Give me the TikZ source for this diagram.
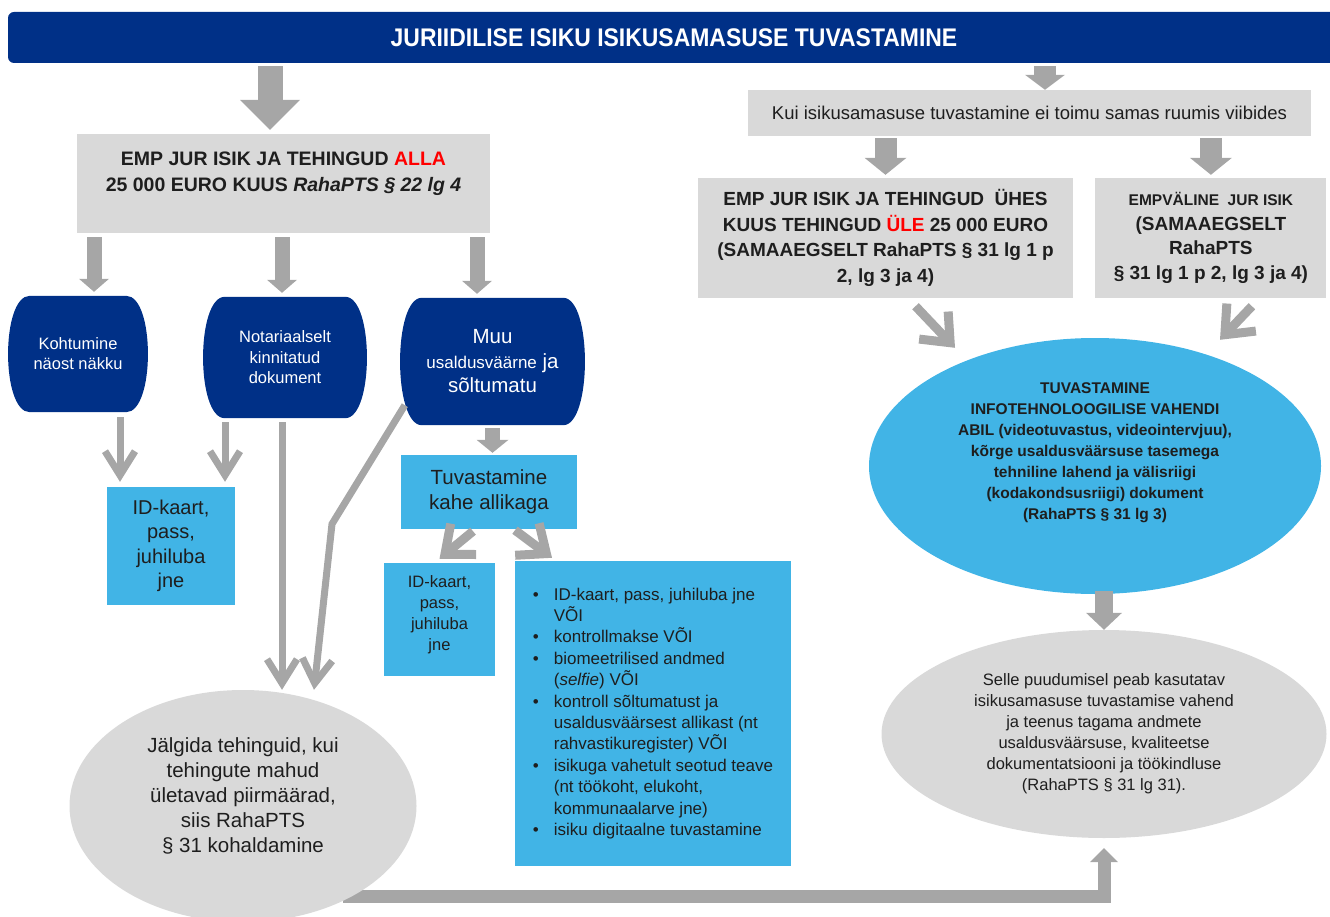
\documentclass[tikz,border=0pt]{standalone}
\usepackage{fontspec}
\setmainfont{Liberation Sans}
\newfontfamily\condfont{Liberation Sans}[FakeStretch=0.9]
\usetikzlibrary{positioning,shapes.geometric,arrows.meta,backgrounds}
\definecolor{jurblue}{RGB}{0,48,135}
\definecolor{skyblue}{RGB}{65,180,230}
\definecolor{boxgray}{RGB}{217,217,217}
\definecolor{arrowgray}{RGB}{166,166,166}
\definecolor{alertred}{RGB}{255,0,0}
\definecolor{inkgray}{RGB}{30,30,30}
\newcommand{\lowpad}[1]{\rule[-#1]{0pt}{#1}}

\begin{document}
\begin{tikzpicture}[x=1pt, y=-1pt,
    titlebar/.style={rectangle, rounded corners=6pt, fill=jurblue, text=white, inner sep=0pt,
      font=\condfont\bfseries\fontsize{25.5}{30}\selectfont},
    graybox/.style={rectangle, fill=boxgray, text=inkgray, align=center, inner sep=0pt},
    skybox/.style={rectangle, fill=skyblue, text=inkgray, align=center, inner sep=0pt},
    barrel/.style={rectangle, text=white, align=center, inner sep=0pt},
    oval/.style={ellipse, text=inkgray, align=center, inner sep=0pt},
    blockarrow/.style n args={3}{draw=arrowgray, line width=#1,
      -{Triangle[width=#2, length=#3, line width=0pt]}},
    barb/.style n args={3}{draw=arrowgray, line width=#1,
      -{Straight Barb[width=#2, length=#3]}}
  ]
  \useasboundingbox (0,0) rectangle (1330,917);

  % Title
  \node[titlebar, minimum width=1332, minimum height=51] (title) at (674,37.5)
    {JURIIDILISE ISIKU ISIKUSAMASUSE TUVASTAMINE};

  % Left branch: below the limit
  \node[graybox, minimum width=413, minimum height=99, font=\fontsize{19.5}{26}\selectfont\bfseries]
    (lowbox) at (283.5,183.5)
    {EMP JUR ISIK JA TEHINGUD \textcolor{alertred}{ALLA}\\
     25 000 EURO KUUS \textit{RahaPTS § 22 lg 4}\lowpad{24pt}};

  \node[barrel, minimum width=140, minimum height=116, font=\fontsize{16.5}{20}\selectfont]
    (meet) at (78,354) {Kohtumine\\näost näkku};
  \node[barrel, minimum width=164, minimum height=121, font=\fontsize{16.5}{20.5}\selectfont]
    (notary) at (285,357.5) {Notariaalselt\\kinnitatud\\dokument};
  \node[barrel, minimum width=185, minimum height=127, font=\fontsize{20.5}{24.5}\selectfont]
    (other) at (492.5,361.5)
    {Muu\\{\fontsize{17}{20}\selectfont usaldusväärne} ja\\sõltumatu};

  \node[skybox, minimum width=128, minimum height=118, font=\fontsize{20}{24.5}\selectfont]
    (idcard) at (171,546) {ID-kaart,\\pass,\\juhiluba\\jne};
  \node[skybox, minimum width=176, minimum height=74, font=\fontsize{20.5}{25}\selectfont]
    (twosrc) at (489,492) {Tuvastamine\\kahe allikaga};
  \node[skybox, minimum width=111, minimum height=113, font=\fontsize{16.5}{21}\selectfont]
    (idcardb) at (439.5,619.5) {ID-kaart,\\pass,\\juhiluba\\jne\lowpad{12pt}};
  \node[skybox, minimum width=276, minimum height=305, font=\fontsize{17}{21.4}\selectfont]
    (methods) at (653,713.5)
    {\begin{tabular}{@{}c@{\hspace{15pt}}l@{}}
      \textbullet & ID-kaart, pass, juhiluba jne\\
                  & VÕI\\
      \textbullet & kontrollmakse VÕI\\
      \textbullet & biomeetrilised andmed\\
                  & (\textit{selfie}) VÕI\\
      \textbullet & kontroll sõltumatust ja\\
                  & usaldusväärsest allikast (nt\\
                  & rahvastikuregister) VÕI\\
      \textbullet & isikuga vahetult seotud teave\\
                  & (nt töökoht, elukoht,\\
                  & kommunaalarve jne)\\
      \textbullet & isiku digitaalne tuvastamine
     \end{tabular}};

  \node[oval, fill=boxgray, minimum width=347, minimum height=232, font=\fontsize{20.5}{25}\selectfont]
    (monitor) at (243,806)
    {Jälgida tehinguid, kui\\tehingute mahud\\ületavad piirmäärad,\\siis RahaPTS\\§ 31 kohaldamine\lowpad{22pt}};

  % Right branch: remote identification
  \node[graybox, minimum width=563, minimum height=46, font=\fontsize{18.5}{22}\selectfont]
    (remote) at (1029.5,113) {Kui isikusamasuse tuvastamine ei toimu samas ruumis viibides};

  \node[graybox, minimum width=375, minimum height=120, font=\fontsize{19}{25.5}\selectfont\bfseries]
    (highbox) at (885.5,238)
    {EMP JUR ISIK JA TEHINGUD~ ÜHES\\
     KUUS TEHINGUD \textcolor{alertred}{ÜLE} 25 000 EURO\\
     (SAMAAEGSELT RahaPTS § 31 lg 1 p\\
     2, lg 3 ja 4)};
  \node[graybox, minimum width=231, minimum height=120, font=\fontsize{19}{24.5}\selectfont\bfseries,
    right=22pt of highbox] (nonemp)
    {{\fontsize{15.5}{20}\selectfont EMPVÄLINE~ JUR ISIK}\\
     (SAMAAEGSELT\\RahaPTS\\§ 31 lg 1 p 2, lg 3 ja 4)};

  \node[oval, fill=skyblue, minimum width=452, minimum height=256, font=\fontsize{15.5}{21}\selectfont\bfseries]
    (itcheck) at (1095,466)
    {TUVASTAMINE\\
     INFOTEHNOLOOGILISE VAHENDI\\
     ABIL (videotuvastus, videointervjuu),\\
     kõrge usaldusväärsuse tasemega\\
     tehniline lahend ja välisriigi\\
     (kodakondsusriigi) dokument\\
     (RahaPTS § 31 lg 3)\lowpad{30pt}};

  \node[oval, fill=boxgray, minimum width=445, minimum height=208, font=\fontsize{16.5}{21}\selectfont]
    (fallback) at (1104,734)
    {Selle puudumisel peab kasutatav\\
     isikusamasuse tuvastamise vahend\\
     ja teenus tagama andmete\\
     usaldusväärsuse, kvaliteetse\\
     dokumentatsiooni ja töökindluse\\
     (RahaPTS § 31 lg 31).};

  % Arrows on the left
  \draw[blockarrow={25pt}{60pt}{30pt}, shorten <=3pt, shorten >=4pt]
    ([xshift=-13.5pt]lowbox.north |- title.south) -- ([xshift=-13.5pt]lowbox.north);
  \foreach \n/\dx in {meet/16, notary/-3, other/-15.5}
    \draw[blockarrow={15pt}{30pt}{13pt}, shorten <=4pt, shorten >=4pt]
      ([xshift=\dx pt]\n.north |- lowbox.south) -- ([xshift=\dx pt]\n.north);

  \draw[barb={7pt}{30pt}{24pt}, shorten <=5pt, shorten >=5pt]
    ([xshift=42pt]meet.south) -- ([xshift=42pt]meet.south |- idcard.north);
  \draw[barb={7pt}{30pt}{24pt}, shorten <=4pt, shorten >=5pt]
    ([xshift=-60pt]notary.south) -- ([xshift=-60pt]notary.south |- idcard.north);
  \draw[barb={7pt}{30pt}{24pt}, shorten <=4pt]
    ([xshift=-3pt]notary.south) -- ([xshift=-3pt]notary.south |- monitor.north);
  \coordinate (bend) at (332,524);
  \draw[barb={7pt}{30pt}{24pt}]
    ([xshift=5pt,yshift=20pt]other.south west) -- (bend) -- ([xshift=71pt]monitor.north);

  \draw[blockarrow={15pt}{32pt}{13pt}, shorten <=3pt, shorten >=2pt]
    (other.south) -- (other.south |- twosrc.north);
  \draw[barb={9pt}{40pt}{24pt}]
    ([xshift=-16pt,yshift=-2pt]twosrc.south) -- ([yshift=4pt]idcardb.north);
  \draw[barb={9pt}{40pt}{24pt}]
    ([xshift=26pt,yshift=-1pt]twosrc.south) -- ([xshift=-101pt,yshift=3pt]methods.north);

  % Arrows on the right
  \draw[blockarrow={22pt}{40pt}{15pt}, shorten <=3pt]
    ([xshift=15.5pt]remote.north |- title.south) -- ([xshift=15.5pt]remote.north);
  \foreach \n in {highbox, nonemp}
    \draw[blockarrow={22pt}{42pt}{17pt}, shorten <=2pt, shorten >=3pt]
      (remote.south -| \n.north) -- (\n.north);
  \draw[barb={9pt}{40pt}{24pt}]
    ([xshift=30pt,yshift=-8pt]highbox.south) -- ([xshift=-140pt,yshift=-10pt]itcheck.north);
  \draw[barb={9pt}{40pt}{24pt}]
    ([xshift=41pt,yshift=-8pt]nonemp.south) -- ([xshift=125pt,yshift=-2pt]itcheck.north);
  \draw[blockarrow={18pt}{36pt}{17pt}, shorten <=-3pt]
    (fallback.north |- itcheck.south) -- (fallback.north);

  \begin{scope}[on background layer]
    % connector from the left oval to the right one
    \draw[blockarrow={13pt}{28pt}{14pt}, shorten >=10pt]
      ([xshift=100pt,yshift=-90pt]monitor.center) -| (fallback.south);
    % barrel shapes
    \foreach \n in {meet, notary, other}
      \fill[jurblue] ([xshift=22pt]\n.north west) -- ([xshift=-22pt]\n.north east)
        .. controls ([xshift=7pt]\n.north east) and ([xshift=7pt]\n.south east) .. ([xshift=-22pt]\n.south east)
        -- ([xshift=22pt]\n.south west)
        .. controls ([xshift=-7pt]\n.south west) and ([xshift=-7pt]\n.north west) .. cycle;
  \end{scope}
\end{tikzpicture}
\end{document}
